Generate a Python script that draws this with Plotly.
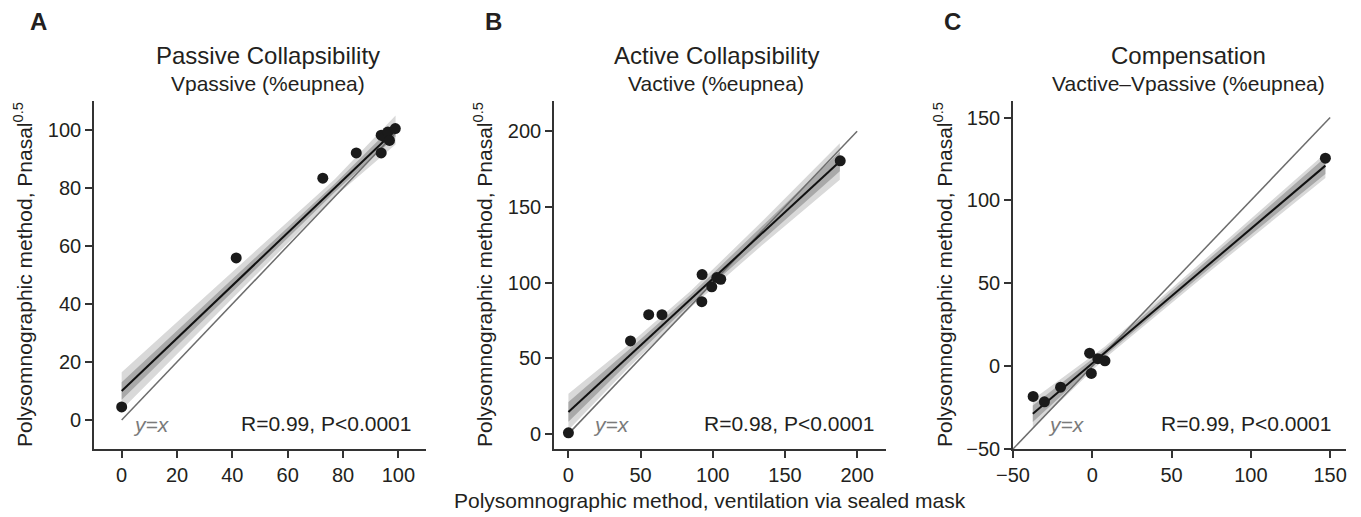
import plotly.graph_objects as go

# --- data ------------------------------------------------------------------
passive_x = [0, 41.4, 72.7, 84.8, 93.8, 95.0, 96.2, 98.9, 96.8, 93.8]
passive_y = [4.5, 55.9, 83.4, 92.1, 98.2, 97.6, 99.3, 100.5, 96.4, 92.1]
passive_fit_x = [0, 99]
passive_fit_y = [10, 100]
passive_band_x = [0, 40, 77, 99]
passive_light_lo = [3.5, 41.9, 77.0, 95.0]
passive_light_hi = [16.5, 50.9, 83.0, 105.0]
passive_dark_lo = [7.0, 44.2, 78.5, 97.7]
passive_dark_hi = [13.0, 48.6, 81.5, 102.3]
passive_identity = [0, 100]

active_x = [0, 43.0, 55.6, 64.8, 92.6, 92.4, 99.3, 102.8, 105.5, 188.3]
active_y = [0.7, 61.4, 78.8, 78.8, 105.3, 87.4, 97.2, 103.3, 102.2, 180.5]
active_fit_x = [0, 188]
active_fit_y = [14.5, 180]
active_band_x = [0, 42, 85, 136, 188]
active_light_lo = [2.5, 44.0, 83.8, 126.2, 168.0]
active_light_hi = [26.5, 59.0, 94.8, 142.2, 192.0]
active_dark_lo = [8.0, 47.3, 86.3, 129.7, 173.5]
active_dark_hi = [21.0, 55.7, 92.3, 138.7, 186.5]
active_identity = [0, 200]

comp_x = [-37.3, -30.2, -20.0, -1.7, -0.6, 3.5, 8.0, 147.0]
comp_y = [-18.3, -21.5, -12.7, 7.8, -4.4, 4.5, 3.2, 125.5]
comp_fit_x = [-37.5, 147]
comp_fit_y = [-28.7, 121]
comp_band_x = [-37.5, 8, 75, 147]
comp_light_lo = [-37.2, 4.8, 57.8, 113.5]
comp_light_hi = [-20.2, 11.8, 67.8, 128.5]
comp_dark_lo = [-33.7, 6.3, 59.8, 116.0]
comp_dark_hi = [-23.7, 10.3, 65.8, 126.0]
comp_identity = [-50, 150]

panels = [
    dict(letter="A", title="Passive Collapsibility", sub="Vpassive (%eupnea)",
         x=passive_x, y=passive_y, fx=passive_fit_x, fy=passive_fit_y,
         bx=passive_band_x, llo=passive_light_lo, lhi=passive_light_hi,
         dlo=passive_dark_lo, dhi=passive_dark_hi, ident=passive_identity,
         stat="R=0.99, P<0.0001", rng=[-10, 110], ticks=[0, 20, 40, 60, 80, 100]),
    dict(letter="B", title="Active Collapsibility", sub="Vactive (%eupnea)",
         x=active_x, y=active_y, fx=active_fit_x, fy=active_fit_y,
         bx=active_band_x, llo=active_light_lo, lhi=active_light_hi,
         dlo=active_dark_lo, dhi=active_dark_hi, ident=active_identity,
         stat="R=0.98, P<0.0001", rng=[-10, 220], ticks=[0, 50, 100, 150, 200]),
    dict(letter="C", title="Compensation", sub="Vactive\u2013Vpassive (%eupnea)",
         x=comp_x, y=comp_y, fx=comp_fit_x, fy=comp_fit_y,
         bx=comp_band_x, llo=comp_light_lo, lhi=comp_light_hi,
         dlo=comp_dark_lo, dhi=comp_dark_hi, ident=comp_identity,
         stat="R=0.99, P<0.0001", rng=[-50, 160], ticks=[-50, 0, 50, 100, 150]),
]

W, H = 1361, 517
FONT = "Liberation Sans, Arial, sans-serif"
TEXT = "#231f20"
AXIS = "#333333"

# pixel layout of each panel (left, right of plot area), title centre, etc.
plot_left = [94, 554, 1013]
plot_right = [426, 886, 1346]
plot_top, plot_bottom = 101, 449
title_cx = [268, 716, 1188]
letter_cx = [38, 493, 952]
ytitle_cx = [23, 483, 943]
stat_right = [413, 876, 1333]
yx_left = [131, 591, 1046]


def px(x):
    return x / W


def py(y):
    return 1 - y / H


fig = go.Figure()
annotations = []

for i, p in enumerate(panels):
    xa = "x" if i == 0 else f"x{i + 1}"
    ya = "y" if i == 0 else f"y{i + 1}"

    fig.add_trace(go.Scatter(
        x=p["bx"] + p["bx"][::-1], y=p["lhi"] + p["llo"][::-1],
        fill="toself", fillcolor="#d9d9d9", line=dict(width=0),
        mode="lines", hoverinfo="skip", showlegend=False, xaxis=xa, yaxis=ya))
    fig.add_trace(go.Scatter(
        x=p["bx"] + p["bx"][::-1], y=p["dhi"] + p["dlo"][::-1],
        fill="toself", fillcolor="#a9a9a9", line=dict(width=0),
        mode="lines", hoverinfo="skip", showlegend=False, xaxis=xa, yaxis=ya))
    fig.add_trace(go.Scatter(
        x=p["ident"], y=p["ident"], mode="lines",
        line=dict(color="#6d6d6d", width=1.5),
        showlegend=False, xaxis=xa, yaxis=ya))
    fig.add_trace(go.Scatter(
        x=p["fx"], y=p["fy"], mode="lines",
        line=dict(color="#111111", width=2),
        showlegend=False, xaxis=xa, yaxis=ya))
    fig.add_trace(go.Scatter(
        x=p["x"], y=p["y"], mode="markers",
        marker=dict(color="#1a1a1a", size=11, line=dict(width=0)),
        showlegend=False, xaxis=xa, yaxis=ya))

    axis_common = dict(
        range=p["rng"], tickvals=p["ticks"], showgrid=False, zeroline=False,
        showline=True, linecolor=AXIS, linewidth=1.6, ticks="outside",
        ticklen=7, tickwidth=1.6, tickcolor=AXIS, automargin=False,
        tickfont=dict(family=FONT, size=20, color=TEXT),
    )
    fig.update_layout({
        f"xaxis{'' if i == 0 else i + 1}": dict(
            domain=[px(plot_left[i]), px(plot_right[i])], anchor=ya, **axis_common),
        f"yaxis{'' if i == 0 else i + 1}": dict(
            domain=[py(plot_bottom), py(plot_top)], anchor=xa, **axis_common),
    })

    annotations += [
        dict(text=f"<b>{p['letter']}</b>", x=px(letter_cx[i]), y=py(22),
             font=dict(size=24, family=FONT, color=TEXT)),
        dict(text=p["title"], x=px(title_cx[i]), y=py(55),
             font=dict(size=24, family=FONT, color=TEXT)),
        dict(text=p["sub"], x=px(title_cx[i]), y=py(83),
             font=dict(size=21, family=FONT, color=TEXT)),
        dict(text="Polysomnographic method, Pnasal<sup>0.5</sup>",
             x=px(ytitle_cx[i]), y=py(275), textangle=-90,
             font=dict(size=21, family=FONT, color=TEXT)),
        dict(text=p["stat"], x=px(stat_right[i]), y=py(423), xanchor="right",
             font=dict(size=21, family=FONT, color=TEXT)),
        dict(text="<i>y=x</i>", x=px(yx_left[i]), y=py(424), xanchor="left",
             font=dict(size=21, family=FONT, color="#7a7a7a")),
    ]

annotations.append(dict(
    text="Polysomnographic method, ventilation via sealed mask",
    x=px(710), y=py(500), font=dict(size=21, family=FONT, color=TEXT)))

for a in annotations:
    a.setdefault("xanchor", "center")
    a.update(xref="paper", yref="paper", showarrow=False, yanchor="middle")

fig.update_layout(
    width=W, height=H,
    margin=dict(l=0, r=0, t=0, b=0),
    paper_bgcolor="white", plot_bgcolor="white",
    showlegend=False,
    annotations=annotations,
)

# the page's default 8px body margin would push the fixed-size figure off-canvas
fig.write_html(
    "out.html",
    config={"displayModeBar": False},
    post_script="document.body.style.margin='0';document.body.style.overflow='hidden';",
)
